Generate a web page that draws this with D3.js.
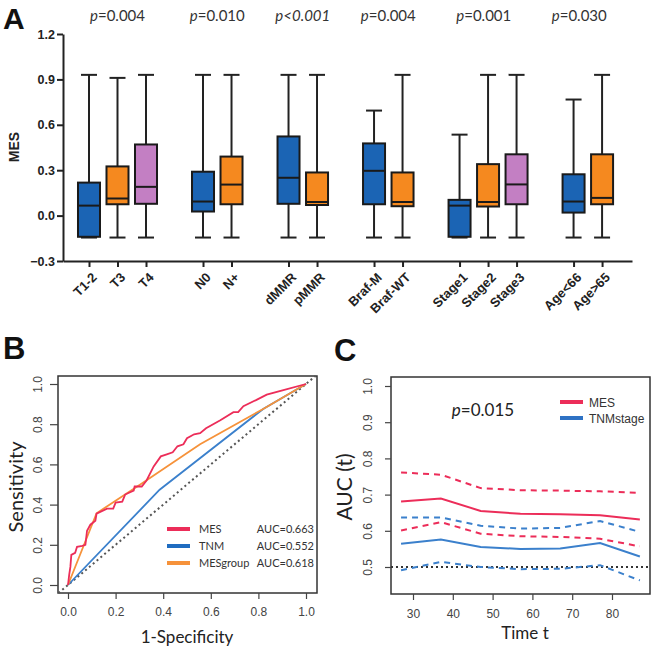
<!DOCTYPE html>
<html><head><meta charset="utf-8">
<script src="https://cdn.jsdelivr.net/npm/d3@7"></script>
<style>
html,body{margin:0;padding:0;background:#fff;}
svg{display:block;}
</style></head>
<body>
<svg id="fig" width="657" height="652"></svg>
<script>
// ---------------- Panel A data ----------------
const groups = ["T1-2","T3","T4","N0","N+","dMMR","pMMR","Braf-M","Braf-WT","Stage1","Stage2","Stage3","Age<66","Age>65"];
const slotIndex = [0,1,2,4,5,7,8,10,11,13,14,15,17,18];
const whiskerLow  = [-0.145,-0.145,-0.145,-0.145,-0.145,-0.145,-0.145,-0.145,-0.145,-0.145,-0.145,-0.145,-0.145,-0.145];
const q1          = [-0.140, 0.075, 0.078, 0.027, 0.075, 0.078, 0.070, 0.075, 0.062,-0.140, 0.060, 0.075, 0.020, 0.075];
const medians     = [ 0.066, 0.113, 0.190, 0.093, 0.205, 0.250, 0.090, 0.296, 0.090, 0.066, 0.090, 0.206, 0.093, 0.117];
const q3          = [ 0.218, 0.325, 0.470, 0.290, 0.390, 0.523, 0.285, 0.477, 0.285, 0.104, 0.340, 0.405, 0.273, 0.405];
const whiskerHigh = [ 0.930, 0.910, 0.930, 0.930, 0.930, 0.930, 0.930, 0.694, 0.930, 0.535, 0.930, 0.930, 0.767, 0.930];
const boxKind     = ["b","o","p","b","o","b","o","b","o","b","o","p","b","o"];
const yTicksA = [-0.3,0.0,0.3,0.6,0.9,1.2];
const pLabels = ["=0.004","=0.010","<0.001","=0.004","=0.001","=0.030"];
const pItalicAll = [false,false,true,false,false,false];
const pSlot = [1,4.5,7.5,10.5,13.85,17.2];

// ---------------- Panel B data ----------------
const rocMES_fpr = [0,0.005,0.01,0.014,0.03,0.038,0.06,0.073,0.08,0.094,0.115,0.12,0.164,0.19,0.2,0.228,0.24,0.276,0.28,0.31,0.33,0.36,0.39,0.415,0.44,0.46,0.485,0.5,0.53,0.555,0.58,0.64,0.695,0.715,0.737,0.79,0.835,0.905,1.0];
const rocMES_tpr = [0,0.05,0.09,0.15,0.16,0.19,0.195,0.20,0.27,0.30,0.32,0.355,0.38,0.38,0.41,0.415,0.45,0.47,0.49,0.49,0.52,0.59,0.64,0.65,0.66,0.69,0.70,0.73,0.75,0.755,0.78,0.82,0.86,0.86,0.89,0.92,0.947,0.97,1.0];
const rocTNM_fpr = [0,0.385,0.82,1.0];
const rocTNM_tpr = [0,0.474,0.876,1.0];
const rocGrp_fpr = [0,0.12,0.31,0.555,0.82,1.0];
const rocGrp_tpr = [0,0.357,0.505,0.70,0.876,1.0];
const rocNames = ["MES","TNM","MESgroup"];
const rocAUC = ["AUC=0.663","AUC=0.552","AUC=0.618"];
const ticksB = [0,0.2,0.4,0.6,0.8,1.0];

// ---------------- Panel C data ----------------
const timeT = [27,37,47,57,67,77,87];
const mesAUC   = [0.681,0.689,0.655,0.647,0.646,0.643,0.631];
const mesUpper = [0.761,0.755,0.718,0.712,0.711,0.709,0.705];
const mesLower = [0.601,0.624,0.592,0.585,0.583,0.578,0.557];
const tnmAUC   = [0.564,0.576,0.555,0.550,0.551,0.566,0.529];
const tnmUpper = [0.637,0.637,0.614,0.606,0.608,0.627,0.597];
const tnmLower = [0.491,0.514,0.500,0.494,0.495,0.505,0.463];
const xTicksC = [30,40,50,60,70,80];
const yTicksC = [0.5,0.6,0.7,0.8,0.9,1.0];
const legendC = ["MES","TNMstage"];

// ---------------- Styles ----------------
const colA = {b:"#1b64b4", o:"#f5891f", p:"#c37fc3"};
const cRed = "#ec2d59", cBlue = "#3b80cc", cOrange = "#f6923a";
const fontA = "'Liberation Sans', Arial, sans-serif";
const fontH = "Lato, 'Open Sans', sans-serif";

const svg = d3.select("#fig");

// ============ Panel A ============
const gA = svg.append("g");
const xA = d3.scaleLinear().domain([-0.912, 19.05]).range([63, 632]);
const yA = d3.scaleLinear().domain([-0.3, 1.2]).range([261, 34]);

gA.append("text").attr("x",3).attr("y",29).attr("font-family",fontA).attr("font-weight","bold")
  .attr("font-size",30).attr("fill","#111").text("A");

const yAxisA = d3.axisLeft(yA).tickValues(yTicksA).tickFormat(d3.format(".1f")).tickSize(6).tickSizeOuter(0);
const gyA = gA.append("g").attr("transform","translate(63,0)").call(yAxisA);
gyA.selectAll("path,line").attr("stroke","#222").attr("stroke-width",2);
gyA.selectAll("text").attr("font-family",fontA).attr("font-weight","bold").attr("font-size",12.5).attr("fill","#222").attr("x",-8);

const xAxisA = d3.axisBottom(xA).tickValues(slotIndex).tickFormat((d,i)=>groups[i]).tickSize(6).tickSizeOuter(0);
const gxA = gA.append("g").attr("transform","translate(0,261)").call(xAxisA);
gxA.selectAll("path,line").attr("stroke","#222").attr("stroke-width",2);
gxA.selectAll("text").attr("font-family",fontA).attr("font-weight","bold").attr("font-size",13).attr("fill","#222")
  .attr("text-anchor","end").attr("y",0).attr("dy","0.35em")
  .attr("transform","translate(5,14) rotate(-45)");

gA.append("text").attr("transform","translate(19,147) rotate(-90)").attr("text-anchor","middle")
  .attr("font-family",fontA).attr("font-weight","bold").attr("font-size",14).attr("fill","#222").text("MES");

const boxW = 22, capW = 16;
groups.forEach((g,i)=>{
  const cx = xA(slotIndex[i]);
  const bg = gA.append("g");
  bg.append("line").attr("x1",cx).attr("x2",cx).attr("y1",yA(whiskerHigh[i])).attr("y2",yA(q3[i])).attr("stroke","#222").attr("stroke-width",2);
  bg.append("line").attr("x1",cx).attr("x2",cx).attr("y1",yA(q1[i])).attr("y2",yA(whiskerLow[i])).attr("stroke","#222").attr("stroke-width",2);
  bg.append("line").attr("x1",cx-capW/2).attr("x2",cx+capW/2).attr("y1",yA(whiskerHigh[i])).attr("y2",yA(whiskerHigh[i])).attr("stroke","#222").attr("stroke-width",2);
  bg.append("line").attr("x1",cx-capW/2).attr("x2",cx+capW/2).attr("y1",yA(whiskerLow[i])).attr("y2",yA(whiskerLow[i])).attr("stroke","#222").attr("stroke-width",2);
  bg.append("rect").attr("x",cx-boxW/2).attr("width",boxW).attr("y",yA(q3[i])).attr("height",yA(q1[i])-yA(q3[i]))
    .attr("fill",colA[boxKind[i]]).attr("stroke","#1a1a1a").attr("stroke-width",2);
  bg.append("line").attr("x1",cx-boxW/2).attr("x2",cx+boxW/2).attr("y1",yA(medians[i])).attr("y2",yA(medians[i])).attr("stroke","#1a1a1a").attr("stroke-width",2);
});

pLabels.forEach((p,i)=>{
  const t = gA.append("text").attr("x",xA(pSlot[i])).attr("y",21).attr("text-anchor","middle")
    .attr("font-family",fontH).attr("font-size",15).attr("fill","#333");
  t.append("tspan").attr("font-style","italic").text("p");
  t.append("tspan").attr("font-style",pItalicAll[i]?"italic":"normal").text(p);
});

// ============ Panel B ============
const gB = svg.append("g");
const xB = d3.scaleLinear().domain([0,1]).range([68,306]);
const yB = d3.scaleLinear().domain([0,1]).range([585,384]);
gB.append("text").attr("x",3).attr("y",359).attr("font-family",fontA).attr("font-weight","bold")
  .attr("font-size",31).attr("fill","#111").text("B");
gB.append("rect").attr("x",58).attr("y",376).attr("width",259).attr("height",217).attr("fill","none").attr("stroke","#333").attr("stroke-width",1.5);

const gxB = gB.append("g").attr("transform","translate(0,593)").call(d3.axisBottom(xB).tickValues(ticksB).tickFormat(d3.format(".1f")).tickSize(6).tickSizeOuter(0));
gxB.select("path").remove();
gxB.selectAll("line").attr("stroke","#444").attr("stroke-width",1.2);
gxB.selectAll("text").attr("font-family",fontA).attr("font-size",12).attr("fill","#444").attr("y",14);
const gyB = gB.append("g").attr("transform","translate(58,0)").call(d3.axisLeft(yB).tickValues(ticksB).tickFormat(d3.format(".1f")).tickSize(8).tickSizeOuter(0));
gyB.select("path").remove();
gyB.selectAll("line").attr("stroke","#444").attr("stroke-width",1.2);
gyB.selectAll("text").attr("font-family",fontA).attr("font-size",12).attr("fill","#444")
  .attr("x",0).attr("dy",0).attr("text-anchor","middle").attr("transform","translate(-16,0) rotate(-90)");

gB.append("text").attr("x",187).attr("y",643).attr("text-anchor","middle").attr("font-family",fontH).attr("font-size",17).attr("fill","#222").text("1-Specificity");
gB.append("text").attr("transform","translate(23,487) rotate(-90)").attr("text-anchor","middle").attr("font-family",fontH).attr("font-size",20).attr("fill","#222").text("Sensitivity");

gB.append("line").attr("x1",xB(-0.04)).attr("y1",yB(-0.04)).attr("x2",xB(1.04)).attr("y2",yB(1.04))
  .attr("stroke","#555").attr("stroke-width",2).attr("stroke-dasharray","2,3");
const lineB = d3.line().x(d=>xB(d[0])).y(d=>yB(d[1]));
gB.append("path").datum(d3.zip(rocTNM_fpr,rocTNM_tpr)).attr("d",lineB).attr("fill","none").attr("stroke",cBlue).attr("stroke-width",1.8);
gB.append("path").datum(d3.zip(rocGrp_fpr,rocGrp_tpr)).attr("d",lineB).attr("fill","none").attr("stroke",cOrange).attr("stroke-width",1.8);
gB.append("path").datum(d3.zip(rocMES_fpr,rocMES_tpr)).attr("d",lineB).attr("fill","none").attr("stroke",cRed).attr("stroke-width",1.8);

const legColB = [cRed,"#1f6cc0",cOrange];
rocNames.forEach((n,i)=>{
  const y = 529 + i*17;
  gB.append("line").attr("x1",167).attr("x2",190).attr("y1",y).attr("y2",y).attr("stroke",legColB[i]).attr("stroke-width",4);
  gB.append("text").attr("x",199).attr("y",y+4).attr("font-family",fontH).attr("font-size",11).attr("fill","#333").text(n);
  gB.append("text").attr("x",314).attr("y",y+4).attr("text-anchor","end").attr("font-family",fontH).attr("font-size",11).attr("fill","#333").text(rocAUC[i]);
});

// ============ Panel C ============
const gC = svg.append("g");
const xC = d3.scaleLinear().domain([30,80]).range([413,612]);
const yC = d3.scaleLinear().domain([0.5,1.0]).range([567,386]);
gC.append("text").attr("x",334).attr("y",361).attr("font-family",fontA).attr("font-weight","bold")
  .attr("font-size",31).attr("fill","#111").text("C");
gC.append("rect").attr("x",391).attr("y",377).attr("width",259).attr("height",217).attr("fill","none").attr("stroke","#333").attr("stroke-width",1.5);

const gxC = gC.append("g").attr("transform","translate(0,594)").call(d3.axisBottom(xC).tickValues(xTicksC).tickSize(6).tickSizeOuter(0));
gxC.select("path").remove();
gxC.selectAll("line").attr("stroke","#444").attr("stroke-width",1.2);
gxC.selectAll("text").attr("font-family",fontA).attr("font-size",12).attr("fill","#444").attr("y",15);
const gyC = gC.append("g").attr("transform","translate(391,0)").call(d3.axisLeft(yC).tickValues(yTicksC).tickFormat(d3.format(".1f")).tickSize(6).tickSizeOuter(0));
gyC.select("path").remove();
gyC.selectAll("line").attr("stroke","#444").attr("stroke-width",1.2);
gyC.selectAll("text").attr("font-family",fontA).attr("font-size",12).attr("fill","#444")
  .attr("x",0).attr("dy",0).attr("text-anchor","middle").attr("transform","translate(-19,0) rotate(-90)");

gC.append("text").attr("x",525).attr("y",639).attr("text-anchor","middle").attr("font-family",fontH).attr("font-size",17).attr("fill","#222").text("Time t");
gC.append("text").attr("transform","translate(352,487) rotate(-90)").attr("text-anchor","middle").attr("font-family",fontH).attr("font-size",21).attr("fill","#222").text("AUC (t)");

gC.append("line").attr("x1",391).attr("x2",650).attr("y1",yC(0.5)).attr("y2",yC(0.5)).attr("stroke","#333").attr("stroke-width",2).attr("stroke-dasharray","2,3");
const lineC = d3.line().x((d,i)=>xC(timeT[i])).y(d=>yC(d));
const seriesC = [
  [tnmLower,cBlue,true],[tnmUpper,cBlue,true],[tnmAUC,cBlue,false],
  [mesLower,cRed,true],[mesUpper,cRed,true],[mesAUC,cRed,false]
];
seriesC.forEach(([vals,col,dashed])=>{
  gC.append("path").datum(vals).attr("d",lineC).attr("fill","none").attr("stroke",col).attr("stroke-width",2)
    .attr("stroke-dasharray",dashed?"6,5":null);
});

const pt = gC.append("text").attr("x",483).attr("y",416).attr("text-anchor","middle").attr("font-family",fontH).attr("font-size",17).attr("fill","#222");
pt.append("tspan").attr("font-style","italic").text("p");
pt.append("tspan").text("=0.015");

[cRed,"#2e72c4"].forEach((c,i)=>{
  const y = 402 + i*16;
  gC.append("line").attr("x1",560).attr("x2",583).attr("y1",y).attr("y2",y).attr("stroke",c).attr("stroke-width",4);
  gC.append("text").attr("x",589).attr("y",y+4.5).attr("font-family",fontA).attr("font-size",12).attr("fill","#333").text(legendC[i]);
});
</script>
</body></html>
